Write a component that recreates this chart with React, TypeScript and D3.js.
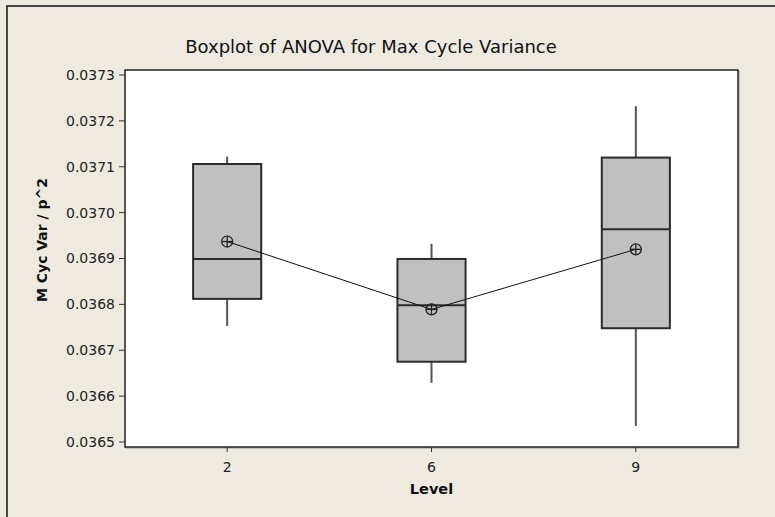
import * as d3 from 'd3';

// Boxplot of ANOVA for Max Cycle Variance
const levels = ['2', '6', '9'];
const whiskerLow = [0.036753, 0.036629, 0.036535];
const q1 = [0.036812, 0.036675, 0.036748];
const median = [0.036899, 0.036798, 0.036964];
const q3 = [0.037106, 0.036899, 0.03712];
const whiskerHigh = [0.037122, 0.036932, 0.037232];
const means = [0.036937, 0.036789, 0.03692];
const yTicks = [0.0365, 0.0366, 0.0367, 0.0368, 0.0369, 0.037, 0.0371, 0.0372, 0.0373];

const W = 775;
const H = 517;
const frame = { left: 125, top: 70, right: 738, bottom: 447 };
const font = '"DejaVu Sans", Verdana, sans-serif';

export default function App() {
  const x = d3.scalePoint<string>()
    .domain(levels)
    .range([frame.left, frame.right])
    .padding(0.5);
  const y = d3.scaleLinear()
    .domain([0.0365, 0.0373])
    .range([442, 75]);
  const boxW = x.step() / 3;
  const fmt = d3.format('.4f');

  const meanLine = d3.line<number>()
    .x((_, i) => x(levels[i]) as number)
    .y(d => y(d));

  return (
    <svg width={W} height={H} style={{ position: 'absolute', left: 0, top: 0, display: 'block' }}>
      <rect x={0} y={0} width={W} height={H} fill="#eeeae0" />
      <rect x={7} y={6} width={W + 10} height={H + 10} fill="none" stroke="#111" strokeWidth={1.5} />

      <text x={371} y={53} textAnchor="middle" fontFamily={font} fontSize={18} fill="#111">
        Boxplot of ANOVA for Max Cycle Variance
      </text>

      {/* plot area */}
      <rect x={frame.left + 1} y={frame.top + 1} width={frame.right - frame.left} height={frame.bottom - frame.top}
        fill="none" stroke="#999" strokeWidth={1} />
      <rect x={frame.left} y={frame.top} width={frame.right - frame.left} height={frame.bottom - frame.top}
        fill="#fff" stroke="#222" strokeWidth={1.5} />

      {/* y axis */}
      {yTicks.map(t => (
        <g key={t}>
          <line x1={frame.left - 6} x2={frame.left} y1={y(t)} y2={y(t)} stroke="#333" strokeWidth={1} />
          <text x={frame.left - 10} y={y(t)} dy="0.35em" textAnchor="end" fontFamily={font} fontSize={14} fill="#222">
            {fmt(t)}
          </text>
        </g>
      ))}
      <text transform={`translate(47,240) rotate(-90)`} textAnchor="middle" fontFamily={font} fontSize={14}
        fontWeight="bold" fill="#111">
        M Cyc Var / p^2
      </text>

      {/* x axis */}
      {levels.map(l => (
        <g key={l}>
          <line x1={x(l)} x2={x(l)} y1={frame.bottom} y2={frame.bottom + 5} stroke="#333" strokeWidth={1} />
          <text x={x(l)} y={472} textAnchor="middle" fontFamily={font} fontSize={14} fill="#222">{l}</text>
        </g>
      ))}
      <text x={(frame.left + frame.right) / 2} y={494} textAnchor="middle" fontFamily={font} fontSize={14.5}
        fontWeight="bold" fill="#111">
        Level
      </text>

      {/* boxes */}
      {levels.map((l, i) => {
        const cx = x(l) as number;
        return (
          <g key={l}>
            <line x1={cx} x2={cx} y1={y(whiskerHigh[i])} y2={y(q3[i])} stroke="#555" strokeWidth={2} />
            <line x1={cx} x2={cx} y1={y(q1[i])} y2={y(whiskerLow[i])} stroke="#555" strokeWidth={2} />
            <rect x={cx - boxW / 2} y={y(q3[i])} width={boxW} height={y(q1[i]) - y(q3[i])}
              fill="#c0c0c0" stroke="#2b2b2b" strokeWidth={2} />
            <line x1={cx - boxW / 2} x2={cx + boxW / 2} y1={y(median[i])} y2={y(median[i])}
              stroke="#2b2b2b" strokeWidth={2} />
          </g>
        );
      })}

      {/* means */}
      <path d={meanLine(means) ?? ''} fill="none" stroke="#111" strokeWidth={1} />
      {levels.map((l, i) => {
        const cx = x(l) as number;
        const cy = y(means[i]);
        return (
          <g key={l} stroke="#222" strokeWidth={1.3} fill="none">
            <circle cx={cx} cy={cy} r={5.5} />
            <line x1={cx - 5.5} x2={cx + 5.5} y1={cy} y2={cy} />
            <line x1={cx} x2={cx} y1={cy - 5.5} y2={cy + 5.5} />
          </g>
        );
      })}
    </svg>
  );
}
